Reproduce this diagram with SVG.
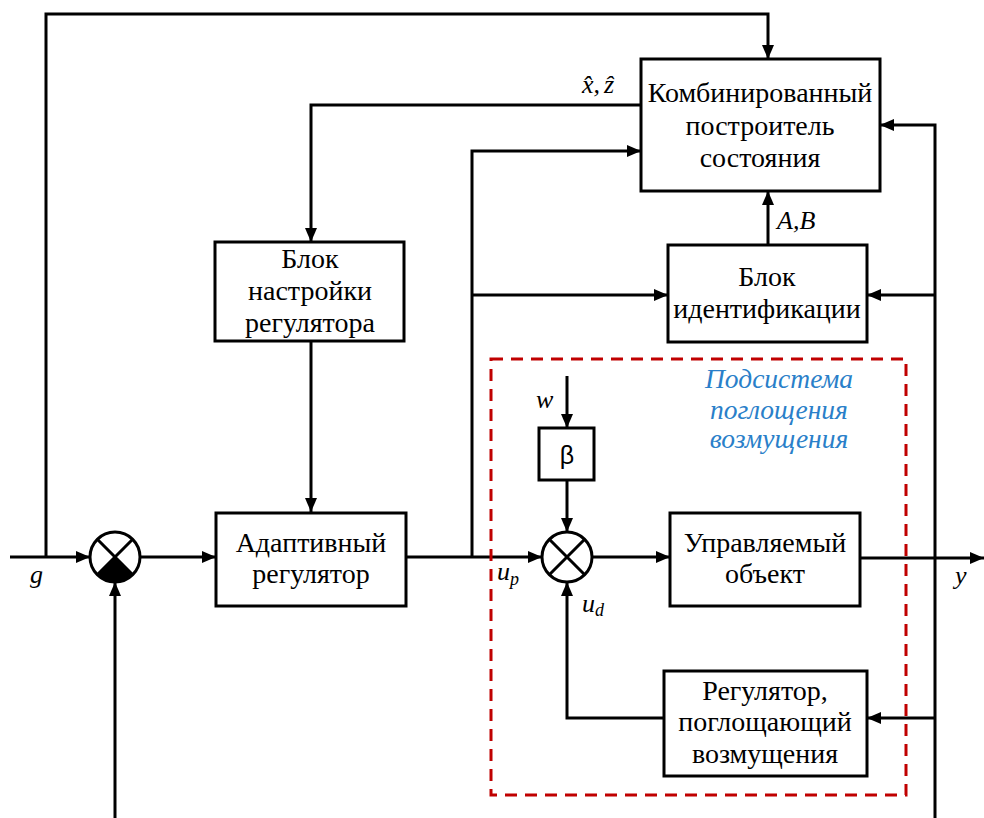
<svg xmlns="http://www.w3.org/2000/svg" width="984" height="818" viewBox="0 0 984 818">
<defs>
<marker id="arr" viewBox="0 0 14 12" refX="14" refY="6" markerWidth="14" markerHeight="12" markerUnits="userSpaceOnUse" orient="auto">
<path d="M0,0 L14,6 L0,12 z" fill="#000"/>
</marker>
<style>
.box{fill:#fff;stroke:#000;stroke-width:3}
.ln{fill:none;stroke:#000;stroke-width:3}
text{font-family:'Liberation Serif','Tinos','DejaVu Serif',serif}
.t{font-size:28px;fill:#000;text-anchor:middle}
.i{font-size:26px;font-style:italic;fill:#000}
.blue{font-size:27.5px;font-style:italic;fill:#2a7fc9;text-anchor:middle}
</style>
</defs>
<rect width="984" height="818" fill="#fff"/>

<g id="connectors">
<polyline class="ln" points="46,557 46,14 768,14 768,59" marker-end="url(#arr)"/>
<polyline class="ln" points="641,105 311,105 311,242" marker-end="url(#arr)"/>
<polyline class="ln" points="472,557 472,151 641,151" marker-end="url(#arr)"/>
<line class="ln" x1="472" y1="295" x2="668" y2="295" marker-end="url(#arr)"/>
<line class="ln" x1="768" y1="244" x2="768" y2="191" marker-end="url(#arr)"/>
<polyline class="ln" points="935,818 935,125 880,125" marker-end="url(#arr)"/>
<line class="ln" x1="935" y1="295" x2="867" y2="295" marker-end="url(#arr)"/>
<line class="ln" x1="935" y1="718" x2="867" y2="718" marker-end="url(#arr)"/>
<line class="ln" x1="311" y1="341" x2="311" y2="512" marker-end="url(#arr)"/>
<line class="ln" x1="10" y1="557" x2="90" y2="557" marker-end="url(#arr)"/>
<line class="ln" x1="140" y1="557" x2="216" y2="557" marker-end="url(#arr)"/>
<line class="ln" x1="115" y1="818" x2="115" y2="582" marker-end="url(#arr)"/>
<line class="ln" x1="406" y1="557" x2="542" y2="557" marker-end="url(#arr)"/>
<line class="ln" x1="592" y1="557" x2="670" y2="557" marker-end="url(#arr)"/>
<line class="ln" x1="860" y1="558" x2="984" y2="558" marker-end="url(#arr)"/>
<line class="ln" x1="567" y1="376" x2="567" y2="428" marker-end="url(#arr)"/>
<line class="ln" x1="567" y1="480" x2="567" y2="532" marker-end="url(#arr)"/>
<polyline class="ln" points="664,718 567,718 567,582" marker-end="url(#arr)"/>
</g>

<g id="subsystem">
<rect x="491" y="359" width="415" height="436" fill="none" stroke="#c00000" stroke-width="3" stroke-dasharray="12 8"/>
<text class="blue" x="779" y="388">Подсистема</text>
<text class="blue" x="779" y="419">поглощения</text>
<text class="blue" x="779" y="448">возмущения</text>
</g>

<g id="observer">
<rect class="box" x="641" y="59" width="239" height="132"/>
<text class="t" x="760" y="102">Комбинированный</text>
<text class="t" x="760" y="135">построитель</text>
<text class="t" x="760" y="167">состояния</text>
</g>

<g id="ident">
<rect class="box" x="668" y="245" width="199" height="97"/>
<text class="t" x="767" y="286">Блок</text>
<text class="t" x="767" y="318">идентификации</text>
</g>

<g id="tuning">
<rect class="box" x="215" y="242" width="189" height="99"/>
<text class="t" x="310" y="268">Блок</text>
<text class="t" x="310" y="300">настройки</text>
<text class="t" x="310" y="332">регулятора</text>
</g>

<g id="adaptive">
<rect class="box" x="216" y="513" width="190" height="93"/>
<text class="t" x="311" y="552">Адаптивный</text>
<text class="t" x="311" y="583">регулятор</text>
</g>

<g id="plant">
<rect class="box" x="670" y="513" width="190" height="93"/>
<text class="t" x="765" y="552">Управляемый</text>
<text class="t" x="765" y="583">объект</text>
</g>

<g id="dist-reg">
<rect class="box" x="664" y="671" width="203" height="105"/>
<text class="t" x="765" y="700">Регулятор,</text>
<text class="t" x="765" y="731">поглощающий</text>
<text class="t" x="765" y="763">возмущения</text>
</g>

<g id="beta">
<rect class="box" x="539" y="428" width="55" height="52"/>
<text x="567" y="464" style="font-family:'Liberation Sans',Arial,sans-serif" font-size="25" text-anchor="middle">β</text>
</g>

<g id="sum1">
<circle cx="115" cy="557" r="25" fill="#fff" stroke="#000" stroke-width="3"/>
<path d="M115,557 L97.3,574.7 A25,25 0 0 0 132.7,574.7 Z" fill="#000"/>
<path d="M97.3,539.3 L132.7,574.7 M132.7,539.3 L97.3,574.7" stroke="#000" stroke-width="3"/>
</g>

<g id="sum2">
<circle cx="567" cy="557" r="25" fill="#fff" stroke="#000" stroke-width="3"/>
<path d="M549.3,539.3 L584.7,574.7 M584.7,539.3 L549.3,574.7" stroke="#000" stroke-width="3"/>
</g>

<g id="labels">
<text class="i" x="582" y="93">x&#770;,<tspan dx="4">z&#770;</tspan></text>
<text class="i" x="777" y="229">A,B</text>
<text class="i" x="30" y="583">g</text>
<text class="i" x="497" y="580">u<tspan font-size="18" dy="5">p</tspan></text>
<text class="i" x="582" y="612">u<tspan font-size="18" dy="4">d</tspan></text>
<text class="i" x="955" y="584">y</text>
<text class="i" x="536" y="408">w</text>
</g>
</svg>
